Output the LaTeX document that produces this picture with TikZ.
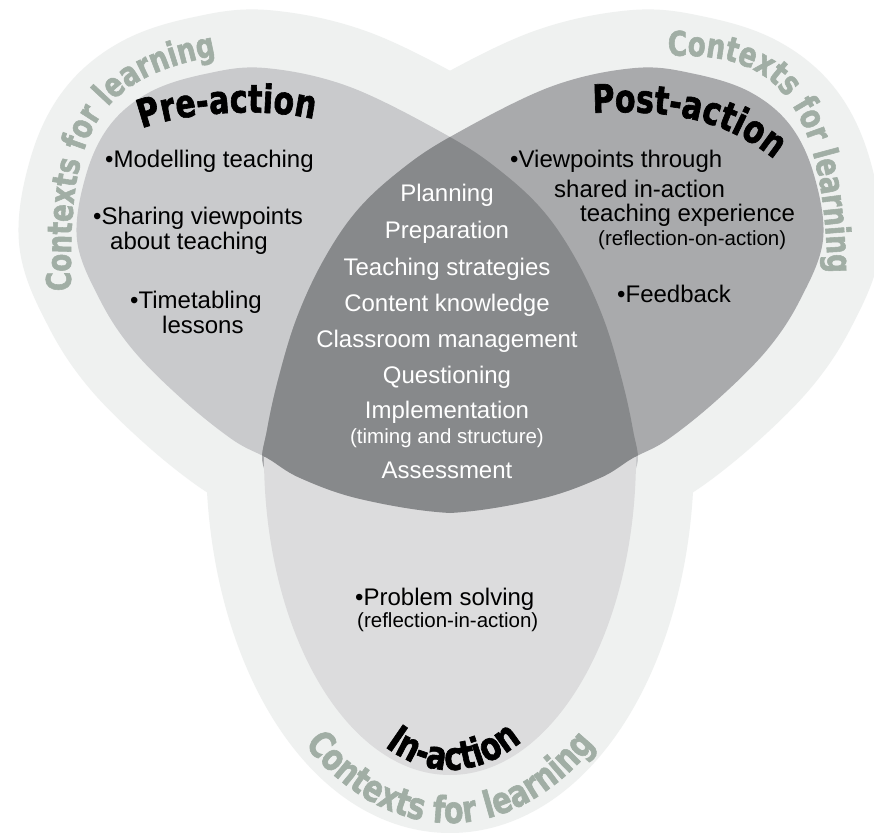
\documentclass[tikz,border=0pt]{standalone}
\usepackage{fontspec}
\setmainfont{Liberation Sans}
\newfontfamily\heavyfont[FakeStretch=0.77, BoldFeatures={FakeBold=1.6}]{DejaVu Sans}
\usetikzlibrary{decorations.text}
\definecolor{outerc}{HTML}{EFF1F0}
\definecolor{prec}{HTML}{C9CACC}
\definecolor{postc}{HTML}{A9AAAC}
\definecolor{inc}{HTML}{DCDCDD}
\definecolor{darkc}{HTML}{87898B}
\definecolor{ctxc}{HTML}{A1AEA5}
\newcommand\prepath{plot[smooth cycle, tension=0.6] coordinates {(77,240) (86,175) (110,125) (150,92) (205,74) (265,68) (350,87) (450,137) (503,173) (545,213) (578,263) (604,320) (622,380) (633,430) (637,465) (615,493) (545,509) (450,513) (360,499) (300,478) (267,458) (233,440) (183,400) (133,350) (100,300)}}
\newcommand\postpath{plot[smooth cycle, tension=0.6] coordinates {(823,240) (814,175) (790,125) (750,92) (695,74) (635,68) (550,87) (450,137) (397,173) (355,213) (322,263) (296,320) (278,380) (267,430) (263,465) (285,493) (355,509) (450,513) (540,499) (600,478) (633,458) (667,440) (717,400) (767,350) (800,300)}}
\tikzset{
  bigtxt/.style={font=\fontsize{24}{28}\selectfont, inner sep=0pt, anchor=base west},
  smalltxt/.style={font=\fontsize{20.5}{24}\selectfont, inner sep=0pt, anchor=base west},
  ctrtxt/.style={font=\fontsize{24}{28}\selectfont, inner sep=0pt, anchor=base, text=white},
  ctrsmall/.style={font=\fontsize{20.5}{24}\selectfont, inner sep=0pt, anchor=base, text=white},
  ctxlabel/.style 2 args={decorate, decoration={text along path, text color=ctxc, text align=#1,
     text={|\heavyfont\bfseries\fontsize{#2}{#2}\selectfont|Contexts for learning}}},
  phaselabel/.style={decorate, decoration={text along path, text color=black, text align=center,
     text={|\heavyfont\bfseries\fontsize{39}{39}\selectfont|#1}}},
  outerblob/.style={fill=outerc, draw=outerc, line width=116pt, line join=round}
}
\begin{document}
\begin{tikzpicture}[x=1pt,y=-1pt]
\useasboundingbox (0,0) rectangle (874,834);
\fill[white] (0,0) rectangle (874,834);
% outer contexts blob
\begin{scope}
  \clip (0,0) rectangle (874,834);
  \path[outerblob] \prepath;
  \path[outerblob] \postpath;
  \path[outerblob] (450,457) ellipse [x radius=186, y radius=318];
\end{scope}
% three phases
\fill[prec] \prepath;
\fill[postc] \postpath;
\fill[inc] (264,457) arc[start angle=180, end angle=0, x radius=186, y radius=318] -- cycle;
\begin{scope}
  \clip \prepath;
  \fill[darkc] \postpath;
\end{scope}
% curved labels
\path[ctxlabel={left}{34}] (71,291) .. controls (69,140) and (88,80) .. (215,56) -- (330,40);
\path[ctxlabel={left}{34}] (668,56) .. controls (775,52) and (828,95) .. (828,300) -- (828,360);
\path[ctxlabel={center}{37}] (270.0,692.3) arc[start angle=140, end angle=40, x radius=235, y radius=366];
\path[phaselabel={Pre-action}] (138,130) .. controls (180,113) and (260,106) .. (318,120);
\path[phaselabel={Post-action}] (592,113) .. controls (660,110) and (720,115) .. (775,160);
\path[phaselabel={In-action}] (341.8,700.2) arc[start angle=129, end angle=49, x radius=172, y radius=313];
% pre-action items
\node[bigtxt] (pre1) at (105,168) {•Modelling teaching};
\node[bigtxt] (pre2) at (93,225) {•Sharing viewpoints};
\node[bigtxt] (pre3) at (110,249) {about teaching};
\node[bigtxt] (pre4) at (130,308) {•Timetabling};
\node[bigtxt] (pre5) at (162,333) {lessons};
% post-action items
\node[bigtxt] (post1) at (510,168) {•Viewpoints through};
\node[bigtxt] (post2) at (554,197) {shared in-action};
\node[bigtxt] (post3) at (580,222) {teaching experience};
\node[smalltxt] (post4) at (598,245) {(reflection-on-action)};
\node[bigtxt] (post5) at (617,302) {•Feedback};
% shared centre
\node[ctrtxt] (c1) at (447,202) {Planning};
\node[ctrtxt] (c2) at (447,238) {Preparation};
\node[ctrtxt] (c3) at (447,275) {Teaching strategies};
\node[ctrtxt] (c4) at (447,311) {Content knowledge};
\node[ctrtxt] (c5) at (447,347) {Classroom management};
\node[ctrtxt] (c6) at (447,383) {Questioning};
\node[ctrtxt] (c7) at (447,418) {Implementation};
\node[ctrsmall] (c8) at (447,443) {(timing and structure)};
\node[ctrtxt] (c9) at (447,478) {Assessment};
% in-action items
\node[bigtxt] (in1) at (355,605) {•Problem solving};
\node[smalltxt] (in2) at (357,627) {(reflection-in-action)};
\end{tikzpicture}
\end{document}
